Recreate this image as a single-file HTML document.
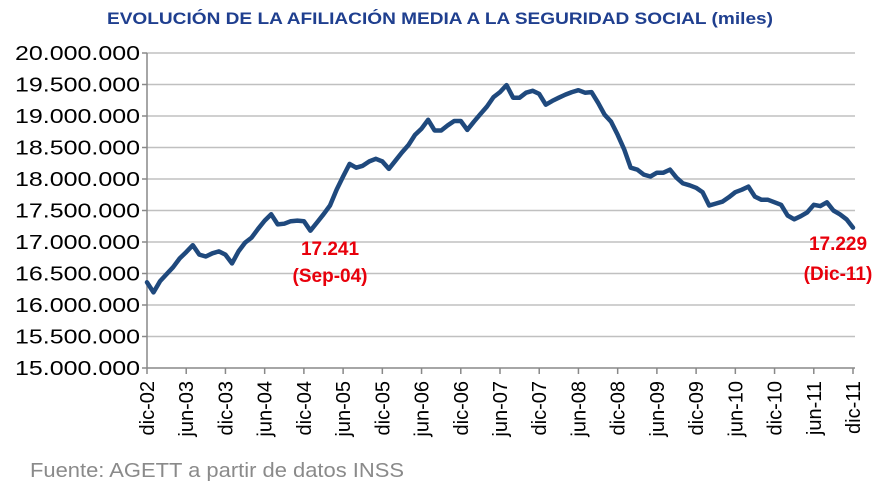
<!DOCTYPE html>
<html><head><meta charset="utf-8"><style>
body{margin:0;background:#fff;}
svg{display:block;font-family:"Liberation Sans",sans-serif;}
</style></head><body>
<svg id="chart" width="885" height="491">
<text x="107" y="24" textLength="666" lengthAdjust="spacingAndGlyphs" font-size="17" font-weight="bold" fill="#1f3f8f">EVOLUCIÓN DE LA AFILIACIÓN MEDIA A LA SEGURIDAD SOCIAL (miles)</text>
<g id="grid"></g><g id="yaxis"></g><g id="xaxis"></g><g id="series"></g>
<text x="330" y="255" text-anchor="middle" font-size="19" font-weight="bold" fill="#e8000b">17.241</text>
<text x="330" y="282" text-anchor="middle" font-size="19" font-weight="bold" fill="#e8000b">(Sep-04)</text>
<text x="838" y="250" text-anchor="middle" font-size="19" font-weight="bold" fill="#e8000b">17.229</text>
<text x="838" y="280" text-anchor="middle" font-size="19" font-weight="bold" fill="#e8000b">(Dic-11)</text>
<text x="30" y="477" textLength="374" lengthAdjust="spacingAndGlyphs" font-size="20" fill="#8a8a8a">Fuente: AGETT a partir de datos INSS</text>
</svg>
<script>
const yTicks=[15000,15500,16000,16500,17000,17500,18000,18500,19000,19500,20000];
const yTickLabels=["15.000.000","15.500.000","16.000.000","16.500.000","17.000.000","17.500.000","18.000.000","18.500.000","19.000.000","19.500.000","20.000.000"];
const xTickLabels=["dic-02","jun-03","dic-03","jun-04","dic-04","jun-05","dic-05","jun-06","dic-06","jun-07","dic-07","jun-08","dic-08","jun-09","dic-09","jun-10","dic-10","jun-11","dic-11"];
const values=[16360,16200,16380,16490,16600,16740,16840,16950,16800,16770,16820,16850,16800,16660,16850,16990,17070,17210,17340,17440,17280,17290,17330,17340,17330,17180,17310,17440,17580,17830,18040,18240,18180,18210,18280,18320,18280,18160,18290,18420,18540,18700,18800,18940,18770,18770,18850,18920,18920,18780,18910,19030,19150,19300,19380,19490,19290,19290,19370,19400,19350,19180,19240,19290,19340,19380,19410,19370,19380,19210,19020,18910,18700,18470,18180,18150,18070,18040,18100,18100,18150,18020,17930,17900,17860,17790,17580,17610,17640,17710,17790,17830,17880,17720,17670,17670,17630,17590,17420,17360,17410,17470,17590,17570,17630,17500,17440,17360,17229];
const NS="http://www.w3.org/2000/svg";
const X0=147,X1=853,Y0=368,Y1=53,YMIN=15000,YMAX=20000;
const xs=m=>X0+(X1-X0)*m/(values.length-1);
const ys=v=>Y0-(Y0-Y1)*(v-YMIN)/(YMAX-YMIN);
function mk(t,a,p){const e=document.createElementNS(NS,t);for(const k in a)e.setAttribute(k,a[k]);p.appendChild(e);return e;}
const grid=document.getElementById('grid'),ya=document.getElementById('yaxis'),xa=document.getElementById('xaxis'),se=document.getElementById('series');
yTicks.forEach((v,i)=>{
 if(i>0){const g=mk('line',{x1:X0,x2:X1+2,y1:ys(v),y2:ys(v),stroke:'#c0c0c0','stroke-width':1.5},grid);
 
 }
 const tk=mk('line',{x1:X0-5,x2:X0,y1:ys(v),y2:ys(v),stroke:'#888','stroke-width':1.5},ya);
 
 
 const t=mk('text',{x:15,y:ys(v)+7,textLength:125,lengthAdjust:'spacingAndGlyphs','font-size':20,fill:'#000'},ya);
 t.textContent=yTickLabels[i];
 
 
});
const ax=mk('line',{x1:X0,x2:X0,y1:Y1,y2:Y0,stroke:'#888','stroke-width':1.5},ya);


const bx=mk('line',{x1:X0,x2:X1+2,y1:Y0,y2:Y0,stroke:'#888','stroke-width':1.5},xa);


xTickLabels.forEach((l,i)=>{
 const x=xs(i*6);
 const tk=mk('line',{x1:x,x2:x,y1:Y0,y2:Y0+6,stroke:'#888','stroke-width':1.5},xa);
 
 
 const t=mk('text',{x:0,y:0,'text-anchor':'end','font-size':20,fill:'#000',transform:`translate(${x+7},${Y0+13}) rotate(-90)`},xa);
 t.textContent=l;
 
 
});
const p=mk('polyline',{points:values.map((v,i)=>xs(i).toFixed(1)+','+ys(v).toFixed(1)).join(' '),fill:'none',stroke:'#1f497d','stroke-width':4.5,'stroke-linejoin':'round','stroke-linecap':'round'},se);


</script>
</body></html>
